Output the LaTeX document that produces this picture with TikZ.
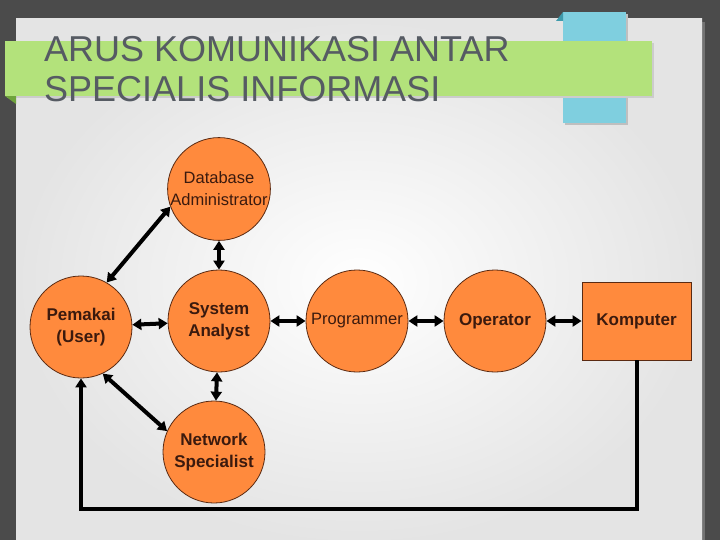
\documentclass[tikz,border=0pt]{standalone}
\usepackage{fontspec}
\setmainfont{Liberation Sans}
\usetikzlibrary{arrows.meta}

\definecolor{slidebg}{HTML}{4B4B4B}
\definecolor{panelgray}{HTML}{E4E4E4}
\definecolor{bannergreen}{HTML}{B3E27B}
\definecolor{bannerfold}{HTML}{6FA33C}
\definecolor{tabblue}{HTML}{7FCFDF}
\definecolor{tabfold}{HTML}{3E9AAB}
\definecolor{titlegray}{HTML}{565B63}
\definecolor{roleorange}{HTML}{FF8A3D}
\definecolor{roleline}{HTML}{5A2A12}
\definecolor{roletext}{HTML}{3B1A0E}

\begin{document}
\begin{tikzpicture}
  [x=1pt,y=-1pt,
   role/.style={circle,draw=roleline,line width=.8pt,fill=roleorange,
     minimum size=102pt,inner sep=0pt,align=center,text=roletext,
     font=\fontsize{17}{22}\selectfont\bfseries},
   thin role/.style={role,font=\fontsize{16.5}{22}\selectfont},
   machine/.style={rectangle,draw=roleline,line width=.8pt,fill=roleorange,
     minimum width=109pt,minimum height=78pt,inner sep=0pt,text=roletext,
     font=\fontsize{17}{22}\selectfont\bfseries},
   title/.style={anchor=base west,inner sep=0pt,text=titlegray,
     font=\fontsize{36}{40}\selectfont},
   link/.style={line width=4pt,{Triangle[width=11pt,length=9pt]}-{Triangle[width=11pt,length=9pt]}},
   feedback/.style={line width=4pt,-{Triangle[width=11pt,length=9pt]}}]

  \useasboundingbox (0,0) rectangle (720,540);

  % slide background
  \fill[slidebg] (0,0) rectangle (720,540);
  \fill[black!55] (19,22) rectangle (705,545);
  \shade[inner color=white,outer color=panelgray] (16,19) rectangle (702,545);

  % title ribbons
  \fill[black!25] (565,14) rectangle (628,125);
  \fill[tabblue] (563,12) rectangle (626,123);
  \fill[tabfold] (563,12) -- (563,21) -- (556,21) -- cycle;
  \fill[black!20] (7,43) rectangle (654,98);
  \fill[bannerfold] (5,96) -- (16,96) -- (16,104) -- cycle;
  \fill[bannergreen] (5,41) rectangle (652,96);
  \node[title] (title1) at (44,62)  {ARUS KOMUNIKASI ANTAR};
  \node[title] (title2) at (44,102) {SPECIALIS INFORMASI};

  % roles
  \node[thin role] (dba)  at (219,189) {Database\\Administrator};
  \node[role]      (user) at (81,327)  {Pemakai\\(User)};
  \node[role]      (sa)   at (219,321) {System\\Analyst};
  \node[role]      (ns)   at (214,452) {Network\\Specialist};
  \node[thin role] (prog) at (357,321) {Programmer};
  \node[role]      (op)   at (495,321) {Operator};
  \node[machine]   (komp) at (636.5,321) {Komputer};

  \coordinate (floor) at (0,509);

  \foreach \from/\to in {user.60/dba.200,dba/sa,user/sa,sa/ns,user.295/ns.156,sa/prog,prog/op,op/komp}
    \draw[link] (\from) -- (\to);

  \draw[feedback] (komp.south) -- (komp.south |- floor) -- (user.south |- floor) -- (user.south);

\end{tikzpicture}
\end{document}
